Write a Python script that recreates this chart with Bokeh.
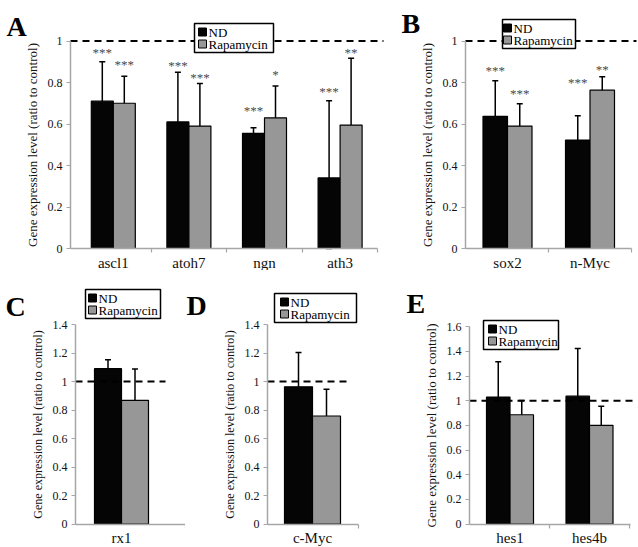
from bokeh.plotting import figure
from bokeh.models import (ColumnDataSource, Whisker, TeeHead, Label, Range1d,
                          FixedTicker, NumeralTickFormatter)
from bokeh.layouts import column, row
from bokeh.embed import file_html
from bokeh.resources import INLINE
from bokeh.core.properties import value

FONT = "Liberation Serif"
CONTROL_LEVEL = 1.0
SERIES = ["ND", "Rapamycin"]
Y_LABEL = "Gene expression level (ratio to control)"

# ---------------- data ----------------
A_GENES = ["ascl1", "atoh7", "ngn", "ath3"]
A_ND = [0.71, 0.61, 0.555, 0.34]
A_ND_ERR = [0.19, 0.24, 0.027, 0.372]
A_RAP = [0.70, 0.59, 0.63, 0.595]
A_RAP_ERR = [0.13, 0.205, 0.153, 0.322]
A_ND_SIG = ["***", "***", "***", "***"]
A_RAP_SIG = ["***", "***", "*", "**"]
A_ND_SIG_Y = [0.958, 0.897, 0.68, 0.769]
A_RAP_SIG_Y = [0.90, 0.839, 0.855, 0.958]
A_YTICKS = [0, 0.2, 0.4, 0.6, 0.8, 1.0]

B_GENES = ["sox2", "n-Myc"]
B_ND = [0.637, 0.523]
B_ND_ERR = [0.171, 0.117]
B_RAP = [0.59, 0.763]
B_RAP_ERR = [0.108, 0.065]
B_ND_SIG = ["***", "***"]
B_RAP_SIG = ["***", "**"]
B_ND_SIG_Y = [0.872, 0.816]
B_RAP_SIG_Y = [0.763, 0.878]
B_YTICKS = [0, 0.2, 0.4, 0.6, 0.8, 1.0]

C_GENES = ["rx1"]
C_ND = [1.09]
C_ND_ERR = [0.062]
C_RAP = [0.868]
C_RAP_ERR = [0.22]
C_YTICKS = [0, 0.2, 0.4, 0.6, 0.8, 1.0, 1.2, 1.4]

D_GENES = ["c-Myc"]
D_ND = [0.963]
D_ND_ERR = [0.24]
D_RAP = [0.758]
D_RAP_ERR = [0.187]
D_YTICKS = [0, 0.2, 0.4, 0.6, 0.8, 1.0, 1.2, 1.4]

E_GENES = ["hes1", "hes4b"]
E_ND = [1.03, 1.037]
E_ND_ERR = [0.285, 0.387]
E_RAP = [0.886, 0.80]
E_RAP_ERR = [0.115, 0.156]
E_YTICKS = [0, 0.2, 0.4, 0.6, 0.8, 1.0, 1.2, 1.4, 1.6]

# ---------------- layout (picture pixels) ----------------
TOP = dict(y0=0, h=270, fb=248, ys=207.5, ylab="13px")
BOT = dict(y0=270, h=276, fb=523.5, ylab="12px")

GREY_AXIS = "#a6a6a6"
ND_COLOR = "#050505"
RAP_COLOR = "#979797"
COLORS = [ND_COLOR, RAP_COLOR]


def make_panel(letter, genes, nd, nd_err, rap, rap_err, yticks, cfg,
               nd_sig=None, rap_sig=None, nd_sig_y=None, rap_sig_y=None):
    n = len(genes)
    s, c0 = cfg["s"], cfg["c0"]
    x0, w, y0, h = cfg["x0"], cfg["w"], cfg["y0"], cfg["h"]
    fb, ys = cfg["fb"], cfg["ys"]

    def dx(px):
        return (px - c0) / s

    def dy(py):
        return (fb - py) / ys

    p = figure(width=w, height=h,
               x_range=Range1d(dx(x0), dx(x0 + w)),
               y_range=Range1d(dy(y0 + h), dy(y0)),
               output_backend="svg", toolbar_location=None, min_border=0)
    p.title.visible = False
    p.xgrid.visible = False
    p.ygrid.visible = False
    p.outline_line_color = None

    bw = cfg["bw"] / s
    idx = list(range(n))
    x_nd = [i - bw / 2 for i in idx]
    x_rap = [i + bw / 2 for i in idx]

    src_nd = ColumnDataSource(dict(x=x_nd, y=nd,
                                   lo=[max(0, m - e) for m, e in zip(nd, nd_err)],
                                   hi=[m + e for m, e in zip(nd, nd_err)]))
    src_rap = ColumnDataSource(dict(x=x_rap, y=rap,
                                    lo=[max(0, m - e) for m, e in zip(rap, rap_err)],
                                    hi=[m + e for m, e in zip(rap, rap_err)]))

    p.vbar(x="x", top="y", bottom=0, width=bw, source=src_nd,
           fill_color=ND_COLOR, line_color="black", line_width=1.2)
    p.vbar(x="x", top="y", bottom=0, width=bw, source=src_rap,
           fill_color=RAP_COLOR, line_color="black", line_width=1.2)

    # control reference (dashed)
    p.segment(x0=[dx(cfg["L"])], y0=[CONTROL_LEVEL], x1=[dx(cfg["dash_end"])],
              y1=[CONTROL_LEVEL], line_color="black", line_width=2, line_dash="7 5")

    for src in (src_nd, src_rap):
        p.add_layout(Whisker(source=src, base="x", upper="hi", lower="lo",
                             line_color="black", line_width=1.5,
                             upper_head=TeeHead(size=6, line_width=1.5, line_color="black"),
                             lower_head=TeeHead(size=6, line_width=1.5, line_color="black")))

    if nd_sig is not None:
        for xs, sig, sy in ((x_nd, nd_sig, nd_sig_y), (x_rap, rap_sig, rap_sig_y)):
            p.text(x=xs, y=sy, text=sig, text_align="center", text_baseline="middle",
                   text_font=value(FONT), text_font_size="13px", text_color="#4a4a4a",
                   text_font_style="normal", y_offset=3)

    # axes, drawn at fixed data positions
    xa = p.xaxis[0]
    xa.fixed_location = 0
    xa.ticker = FixedTicker(ticks=idx, minor_ticks=cfg["xminor"])
    xa.major_label_overrides = {i: g for i, g in enumerate(genes)}
    xa.bounds = (dx(cfg["L"]), dx(cfg["xaxis_end"]))
    xa.axis_line_color = GREY_AXIS
    xa.axis_line_width = 1.5
    xa.major_tick_line_color = None
    xa.major_tick_out = 0
    xa.major_tick_in = 0
    xa.minor_tick_line_color = GREY_AXIS
    xa.minor_tick_line_width = 1.2
    xa.minor_tick_out = 4
    xa.minor_tick_in = 0
    xa.major_label_text_font = FONT
    xa.major_label_text_font_size = "15px"
    xa.major_label_text_color = "#111111"
    xa.major_label_standoff = 2

    ya = p.yaxis[0]
    ya.fixed_location = dx(cfg["L"])
    ya.ticker = FixedTicker(ticks=yticks)
    ya.formatter = NumeralTickFormatter(format="0.[0]")
    ya.bounds = (0, yticks[-1])
    ya.axis_line_color = GREY_AXIS
    ya.axis_line_width = 1.5
    ya.major_tick_line_color = GREY_AXIS
    ya.major_tick_out = 4
    ya.major_tick_in = 0
    ya.minor_tick_line_color = None
    ya.major_label_text_font = FONT
    ya.major_label_text_font_size = "12px"
    ya.major_label_text_color = "#111111"
    ya.major_label_standoff = 4
    ya.axis_label = Y_LABEL
    ya.axis_label_text_font = FONT
    ya.axis_label_text_font_size = cfg["ylab"]
    ya.axis_label_text_font_style = "normal"
    ya.axis_label_text_color = "#111111"
    ya.axis_label_standoff = 5

    # legend box: left, top, width (pixels), glyph inset
    lx, lt, lw, gx = cfg["leg"]
    lh = 29
    p.quad(left=[dx(lx)], right=[dx(lx + lw)], top=[dy(lt)], bottom=[dy(lt + lh)],
           fill_color="white", line_color="black", line_width=1.5)
    row_px = [lt + 8.5, lt + 20.5]
    p.rect(x=[dx(lx + gx + 4)] * 2, y=[dy(r) for r in row_px], width=8, height=8,
           width_units="screen", height_units="screen",
           fill_color=COLORS, line_color="black", line_width=1)
    for name, r in zip(SERIES, row_px):
        p.add_layout(Label(x=dx(lx + gx + 10), y=dy(r), x_units="data", y_units="data",
                           text=name, text_font=FONT, text_font_size="13px",
                           text_font_style="normal", text_color="black",
                           text_align="left", text_baseline="middle"))

    tx, ty = cfg["letter"]
    p.add_layout(Label(x=dx(tx), y=dy(ty), x_units="data", y_units="data", text=letter,
                       text_font=FONT, text_font_size="28px", text_font_style="bold",
                       text_color="black", text_align="left", text_baseline="alphabetic"))
    return p


# legend: (left x, top y, width, glyph inset); letter: (left x, baseline y)
cfgA = dict(TOP, x0=0, w=390, L=70, c0=112.8, s=75.6, bw=22,
            dash_end=383, xaxis_end=377.4, xminor=[0.5, 1.5, 2.5, 3.5],
            leg=(194, 23, 79, 4), letter=(6, 26))
cfgB = dict(TOP, x0=390, w=248, L=465, c0=507, s=82.5, bw=24.5,
            dash_end=636, xaxis_end=630.7, xminor=[0.5, 1.5],
            leg=(502, 19, 73, 1), letter=(401, 23))
cfgC = dict(BOT, ys=142.5, x0=0, w=185, L=75, c0=121, s=100, bw=27,
            dash_end=165, xaxis_end=185, xminor=[0.64],
            leg=(85, 289, 75, 3), letter=(5, 306))
cfgD = dict(BOT, ys=142.5, x0=185, w=215, L=267, c0=312, s=100, bw=28,
            dash_end=348, xaxis_end=358, xminor=[0.46],
            leg=(274, 293, 82, 6), letter=(186, 305))
cfgE = dict(BOT, ys=123.3, x0=400, w=237, L=469, c0=509.5, s=79.5, bw=23.5,
            dash_end=636, xaxis_end=629.5, xminor=[0.5, 1.5],
            leg=(483, 320, 75, 5), letter=(406, 303), ylab="13px")

pA = make_panel("A", A_GENES, A_ND, A_ND_ERR, A_RAP, A_RAP_ERR, A_YTICKS, cfgA,
                A_ND_SIG, A_RAP_SIG, A_ND_SIG_Y, A_RAP_SIG_Y)
pB = make_panel("B", B_GENES, B_ND, B_ND_ERR, B_RAP, B_RAP_ERR, B_YTICKS, cfgB,
                B_ND_SIG, B_RAP_SIG, B_ND_SIG_Y, B_RAP_SIG_Y)
pC = make_panel("C", C_GENES, C_ND, C_ND_ERR, C_RAP, C_RAP_ERR, C_YTICKS, cfgC)
pD = make_panel("D", D_GENES, D_ND, D_ND_ERR, D_RAP, D_RAP_ERR, D_YTICKS, cfgD)
pE = make_panel("E", E_GENES, E_ND, E_ND_ERR, E_RAP, E_RAP_ERR, E_YTICKS, cfgE)

layout = column(row(pA, pB), row(pC, pD, pE))

with open("out.html", "w") as f:
    f.write(file_html(layout, INLINE))
